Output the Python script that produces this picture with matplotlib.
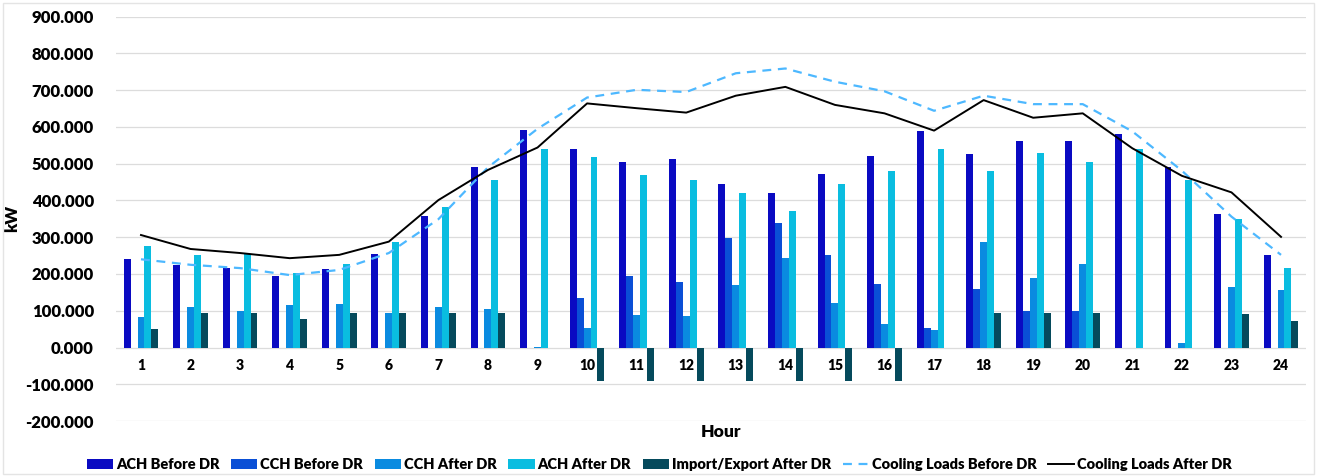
import numpy as np
import matplotlib.pyplot as plt
from matplotlib.patches import Rectangle

hours = list(range(1, 25))
ach_before = [240, 225, 216, 195, 213, 254, 358, 492, 592, 540, 505, 514,
              445, 420, 471, 520, 588, 527, 562, 562, 581, 492, 363, 252]
cch_before = [0, 0, 0, 0, 0, 0, 0, 0, 0, 136, 194, 179,
              297, 340, 252, 172, 54, 158, 98, 98, 0, 0, 0, 0]
cch_after = [82, 111, 100, 116, 118, 93, 111, 104, 2, 53, 89, 87,
             170, 244, 122, 63, 48, 287, 190, 227, 0, 11, 165, 157]
ach_after = [277, 252, 254, 202, 227, 286, 383, 455, 540, 517, 469, 455,
             421, 372, 445, 479, 540, 479, 528, 504, 540, 456, 349, 216]
import_export = [50, 93, 93, 77, 93, 93, 93, 93, 0, -92, -92, -92,
                 -92, -92, -92, -92, 0, 93, 93, 93, 0, 0, 91, 73]
load_before = [240, 225, 216, 197, 211, 257, 349, 490, 595, 680, 701, 695,
               746, 759, 723, 697, 644, 685, 662, 662, 588, 481, 356, 252]
load_after = [306, 268, 257, 243, 252, 288, 401, 483, 544, 664, 651, 639,
              685, 709, 660, 637, 590, 673, 625, 637, 542, 467, 422, 301]

bar_series = [
    ("ACH Before DR", ach_before, "#0A0AC2"),
    ("CCH Before DR", cch_before, "#0A4FD6"),
    ("CCH After DR", cch_after, "#0A8BE0"),
    ("ACH After DR", ach_after, "#0ABDE0"),
    ("Import/Export After DR", import_export, "#054A5C"),
]

plt.rcParams['font.family'] = ['Lato', 'DejaVu Sans']
plt.rcParams['font.weight'] = 'heavy'

fig = plt.figure(figsize=(13.19, 4.76), dpi=100)
ax = fig.add_axes([0.0881, 0.1155, 0.9019, 0.8495])

x = np.arange(len(hours))
w = 0.14
for i, (name, vals, col) in enumerate(bar_series):
    ax.bar(x + (i - 2) * w, vals, w, color=col, label=name, zorder=3)

ax.plot(x, load_before, color="#4DB8FF", lw=1.6, ls=(0, (4, 3)),
        label="Cooling Loads Before DR", zorder=4)
ax.plot(x, load_after, color="black", lw=1.4,
        label="Cooling Loads After DR", zorder=4)

ax.set_xlim(-0.5, len(hours) - 0.5)
ax.set_ylim(-200, 900)
ax.set_yticks(np.arange(-200, 901, 100))
ax.set_yticklabels([f"{v:.3f}" for v in np.arange(-200, 901, 100)],
                   fontsize=12, fontweight='heavy')
ax.set_xticks(x)
ax.set_xticklabels([str(h) for h in hours], fontsize=12.5, fontweight='heavy')
ax.spines['bottom'].set_position(('data', 0))
for s in ['top', 'right', 'left', 'bottom']:
    ax.spines[s].set_visible(False)
ax.tick_params(axis='both', length=0)
ax.tick_params(axis='x', pad=8)
ax.tick_params(axis='y', pad=16)
ax.grid(axis='y', color="#DCDCDC", lw=0.9, zorder=0)
ax.set_axisbelow(True)

ax.set_ylabel("kW", fontsize=12, fontweight='heavy', labelpad=4)
fig.text(0.547, 0.092, "Hour", ha='center', va='center', fontsize=12.5, fontweight='heavy')

handles, labels = ax.get_legend_handles_labels()
order = [2, 3, 4, 5, 6, 0, 1]
fig.legend([handles[i] for i in order], [labels[i] for i in order],
           loc='center', bbox_to_anchor=(0.5, 0.024), ncol=7, frameon=False,
           prop={'size': 10.5, 'weight': 'heavy'}, handlelength=1.8,
           handleheight=0.7, handletextpad=0.2, columnspacing=0.8)

fig.patches.append(Rectangle((0.002, 0.004), 0.994, 0.99, transform=fig.transFigure,
                             fill=False, edgecolor="#E4E4E4", lw=1))

fig.savefig("out.png", dpi=100)
